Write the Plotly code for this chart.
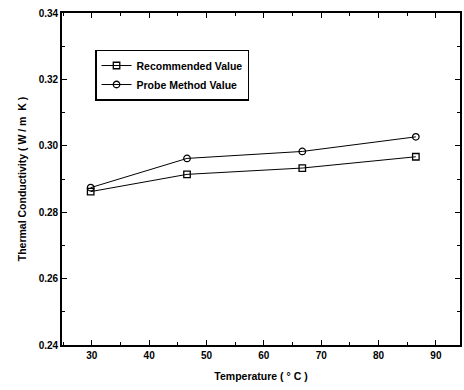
import plotly.graph_objects as go

# Measured temperatures (°C) and thermal conductivity (W / m K)
temperature = [29.8, 46.6, 66.7, 86.5]
recommended = [0.2862, 0.2914, 0.2933, 0.2967]
probe_method = [0.2874, 0.2962, 0.2983, 0.3027]

x_ticks = [30, 40, 50, 60, 70, 80, 90]
y_ticks = [0.24, 0.26, 0.28, 0.30, 0.32, 0.34]

font_family = "Liberation Sans, Arial, sans-serif"
tick_font = dict(family=font_family, size=10, color="black", weight="bold")
title_font = dict(family=font_family, size=10.5, color="black", weight="bold")

fig = go.Figure()
fig.add_trace(go.Scatter(
    x=temperature, y=recommended, name="Recommended Value",
    mode="lines+markers",
    line=dict(color="black", width=1),
    marker=dict(symbol="square-open", size=6.5, color="black", line=dict(width=1.3)),
))
fig.add_trace(go.Scatter(
    x=temperature, y=probe_method, name="Probe Method Value",
    mode="lines+markers",
    line=dict(color="black", width=1),
    marker=dict(symbol="circle-open", size=6.5, color="black", line=dict(width=1.3)),
))

axis_common = dict(
    showline=True, linecolor="black", linewidth=1.6, mirror="allticks",
    ticks="inside", ticklen=5, tickwidth=1.3, tickcolor="black",
    showgrid=False, zeroline=False,
    tickfont=tick_font,
)

fig.update_xaxes(
    range=[24.8, 94.2], tickvals=x_ticks,
    ticktext=[str(v) for v in x_ticks],
    minor=dict(dtick=5, tick0=0, ticks="inside", ticklen=3, tickcolor="black"),
    title=dict(text="Temperature ( ° C )", font=title_font, standoff=13),
    **axis_common,
)
fig.update_yaxes(
    range=[0.24, 0.34], tickvals=y_ticks,
    ticktext=[f"{v:.2f}" for v in y_ticks],
    minor=dict(dtick=0.01, tick0=0, ticks="inside", ticklen=3, tickcolor="black"),
    title=dict(text="Thermal Conductivity ( W / m  K )", font=title_font, standoff=10),
    **axis_common,
)

fig.update_layout(
    width=464, height=390,
    margin=dict(l=62, r=2, t=13, b=45),
    paper_bgcolor="white", plot_bgcolor="white",
    showlegend=True,
    legend=dict(
        x=0.083, y=0.89, xanchor="left", yanchor="top",
        bordercolor="black", borderwidth=1.5, bgcolor="white",
        font=dict(family=font_family, size=10.5, color="black", weight="bold"),
        itemwidth=30, tracegroupgap=0,
    ),
)

fig.write_html("out.html")
